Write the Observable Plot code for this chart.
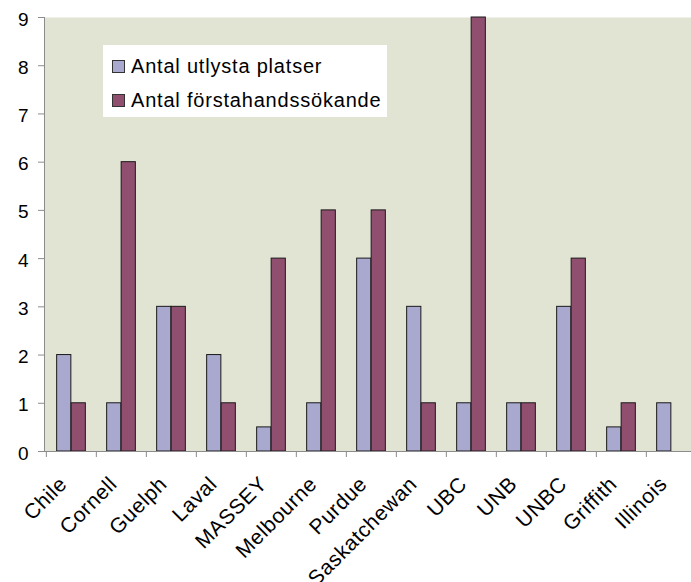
<!DOCTYPE html>
<html><head><meta charset="utf-8">
<script src="https://cdn.jsdelivr.net/npm/d3@7"></script>
<script src="https://cdn.jsdelivr.net/npm/@observablehq/plot@0.6"></script>
<style>
body{margin:0;background:#fff;}
#wrap{position:relative;width:691px;height:582px;overflow:hidden;}
.legend{position:absolute;left:103px;top:45px;width:284px;height:72px;background:#fff;font-family:"Liberation Sans",Arial,sans-serif;font-size:20px;letter-spacing:0.8px;color:#000;}
.row{position:absolute;left:0;white-space:nowrap;line-height:23px;}
.sw{position:absolute;width:11px;height:11px;border:1px solid #333;}
.lab{position:absolute;left:28px;}
g[aria-label="x-axis tick label"] text{letter-spacing:0.6px;}
</style></head>
<body><div id="wrap"></div>
<script>
const categories = ["Chile","Cornell","Guelph","Laval","MASSEY","Melbourne","Purdue","Saskatchewan","UBC","UNB","UNBC","Griffith","Illinois"];
const platser = [2,1,3,2,0.5,1,4,3,1,1,3,0.5,1];
const sokande = [1,6,3,1,4,5,5,1,9,1,4,1,null];
const seriesNames = ["Antal utlysta platser","Antal förstahandssökande"];
const seriesColors = ["#A9A8CF","#914F70"];
const yTicks = [0,1,2,3,4,5,6,7,8,9];

const W = 691, H = 582;
const mLeft = 44, mTop = 17, bottomY = 451;
const bw = 50.3;           // band width in px
const barW = 14.5;         // width of each bar
const grey = "#8c8c8c";

const d1 = categories.map((c,i)=>({cat:c, v:platser[i]}));
const d2 = categories.map((c,i)=>({cat:c, v:sokande[i]})).filter(d=>d.v!=null);

const chart = Plot.plot({
  width: W, height: H,
  marginLeft: mLeft, marginRight: 0, marginTop: mTop, marginBottom: H - bottomY,
  style: {fontFamily: "'Liberation Sans', Arial, sans-serif", fontSize: "19px", background: "transparent"},
  x: {type: "band", domain: categories, range: [mLeft, mLeft + bw*categories.length], padding: 0},
  y: {domain: [0, 9], range: [bottomY, mTop]},
  marks: [
    Plot.frame({fill: "#E1E4D3", stroke: null}),
    Plot.barY(d1, {x: "cat", y: "v", fill: seriesColors[0], stroke: "#1a1a1a", strokeWidth: 1,
      insetLeft: bw/2 - barW, insetRight: bw/2}),
    Plot.barY(d2, {x: "cat", y: "v", fill: seriesColors[1], stroke: "#1a1a1a", strokeWidth: 1,
      insetLeft: bw/2, insetRight: bw/2 - barW}),
    Plot.frame({anchor: "left", stroke: grey}),
    Plot.frame({anchor: "bottom", stroke: grey}),
    Plot.axisY({ticks: yTicks, tickSize: 6, stroke: grey, text: null, label: null}),
    Plot.axisY({ticks: yTicks, tickSize: 6, tickPadding: 10, stroke: null, fill: "#000", fontSize: 19, dy: 2, label: null, tickFormat: d=>String(d)}),
    Plot.axisX({tickSize: 6, text: null, dx: -bw/2, stroke: grey, label: null}),
    Plot.axisX({tickSize: 0, tickRotate: -45, tickPadding: 29, dx: -8, fill: "#000", fontSize: 21, label: null})
  ]
});

const wrap = document.getElementById("wrap");
wrap.appendChild(chart);

const lg = document.createElement("div");
lg.className = "legend";
seriesNames.forEach((name, i) => {
  const row = document.createElement("div");
  row.className = "row";
  row.style.top = (i === 0 ? 10 : 44) + "px";
  row.style.width = "284px";
  row.style.height = "23px";
  const sw = document.createElement("div");
  sw.className = "sw";
  sw.style.left = "9px";
  sw.style.top = "5px";
  sw.style.background = seriesColors[i];
  const lab = document.createElement("div");
  lab.className = "lab";
  lab.textContent = name;
  row.appendChild(sw); row.appendChild(lab);
  lg.appendChild(row);
});
wrap.appendChild(lg);
</script>
</body></html>
